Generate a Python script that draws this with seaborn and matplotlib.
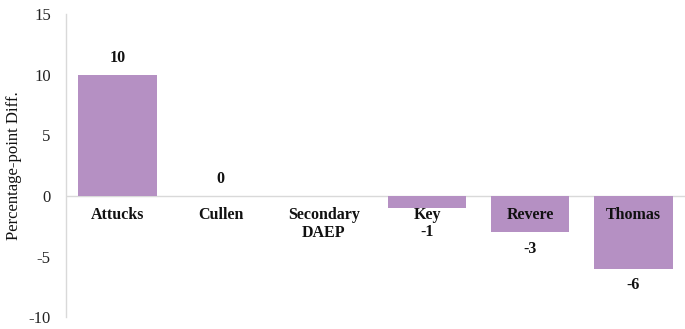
import matplotlib
matplotlib.use("Agg")
import matplotlib.pyplot as plt
import seaborn as sns
import pandas as pd

# Percentage-point difference by campus
campuses = ["Attucks", "Cullen", "Secondary\nDAEP", "Key", "Revere", "Thomas"]
diffs = [10, 0, 0, -1, -3, -6]
value_labels = ["10", "0", "", "-1", "-3", "-6"]
y_ticks = [-10, -5, 0, 5, 10, 15]

bar_color = "#B590C3"
grid_gray = "#D9D9D9"

sns.set_theme(style="white")
plt.rcParams["font.family"] = ["Liberation Serif", "DejaVu Serif"]

df = pd.DataFrame({"campus": campuses, "diff": diffs})

fig = plt.figure(figsize=(6.85, 3.29), dpi=100)
ax = fig.add_axes([0.0964, 0.036, 0.9036, 0.921])

sns.barplot(data=df, x="campus", y="diff", color=bar_color, width=0.76,
            saturation=1, linewidth=0, edgecolor="none", ax=ax, zorder=2)

ax.set_ylim(-10, 15)
ax.set_xlim(-0.5, len(campuses) - 0.5)
ax.set_yticks(y_ticks)
ax.set_yticklabels([str(t) for t in y_ticks], fontsize=12)
ax.tick_params(axis="y", length=0, pad=11, colors="#222222")
ax.set_xticks([])
ax.set_xlabel("")
ax.set_ylabel("Percentage-point Diff.", fontsize=12, labelpad=5,
              color="#111111")

for side in ["top", "right", "bottom"]:
    ax.spines[side].set_visible(False)
ax.spines["left"].set_color(grid_gray)
ax.spines["left"].set_linewidth(1.0)
ax.axhline(0, color=grid_gray, linewidth=1.0, zorder=1)

# Campus names just below the zero line
for i, name in enumerate(campuses):
    ax.annotate(name, xy=(i, 0), xytext=(0, -8), textcoords="offset points",
                ha="center", va="top", fontsize=11.5, fontweight="bold",
                linespacing=1.15, color="#111111", zorder=3)

# Value labels outside the end of each bar
for i, (v, lab) in enumerate(zip(diffs, value_labels)):
    if not lab:
        continue
    off = 12 if v >= 0 else -12
    if v == -1:
        off = -17
    ax.annotate(lab, xy=(i, v), xytext=(0, off), textcoords="offset points",
                ha="center", va="center", fontsize=11.5, fontweight="bold",
                color="#111111", zorder=3)

fig.savefig("out.png", dpi=100)
